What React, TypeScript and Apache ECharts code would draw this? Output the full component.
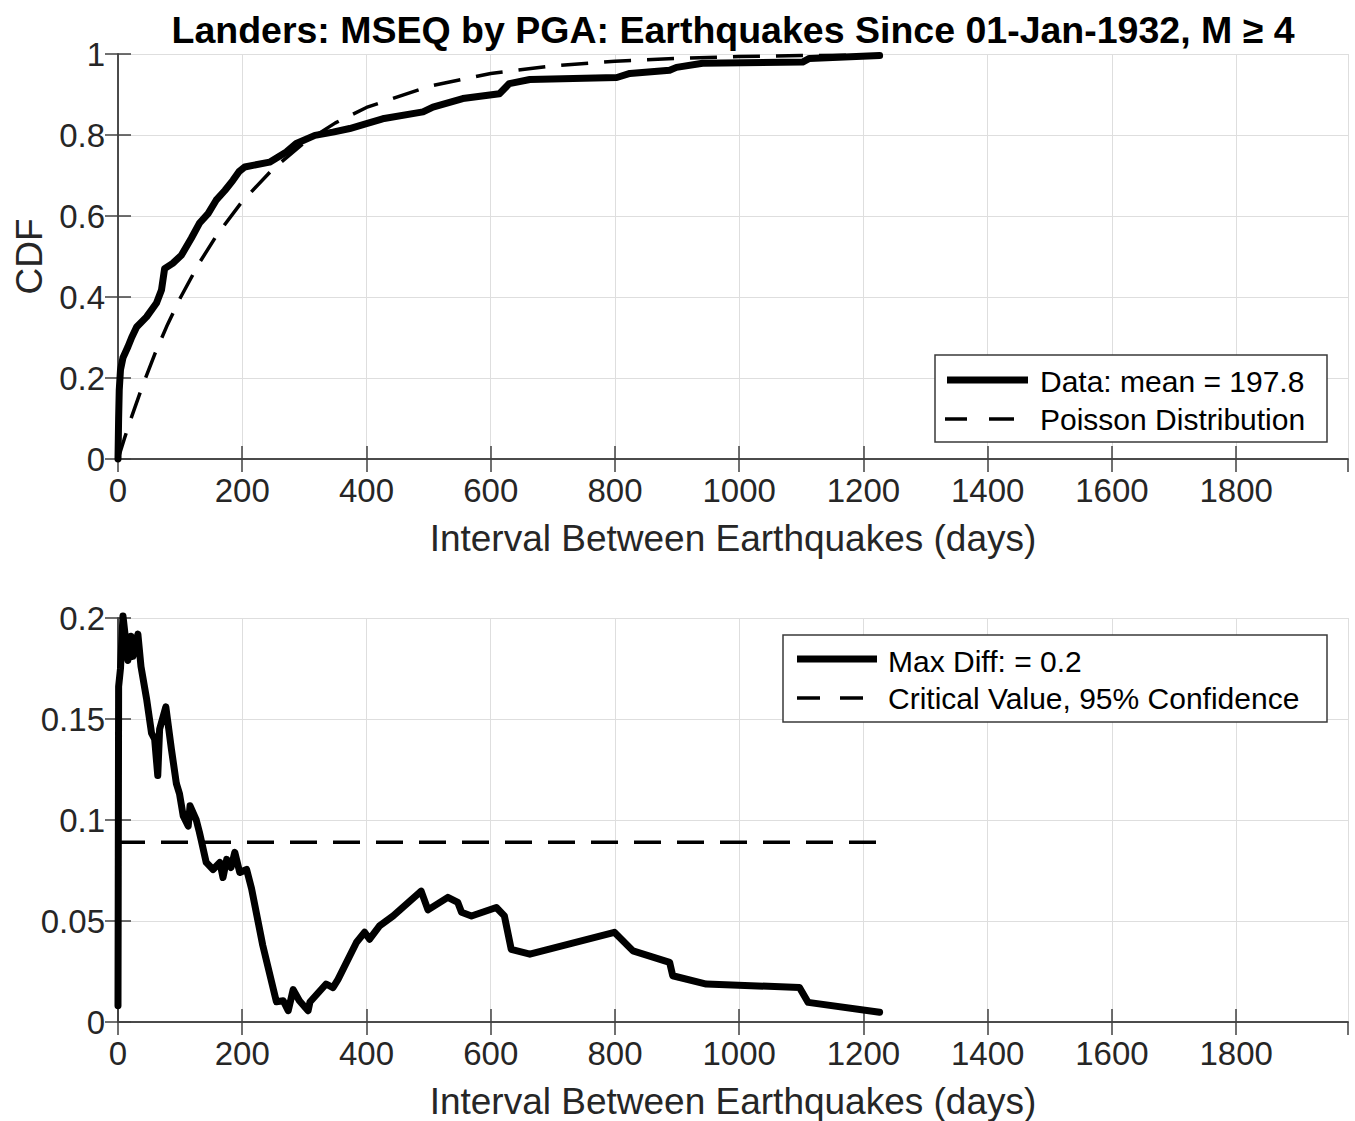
import React, { useEffect, useRef } from "react";
import * as echarts from "echarts";

// Empirical CDF of inter-event intervals (days)
const cdfDays = [0, 1, 2, 4, 8, 16, 22, 30, 46, 62, 70, 75, 88, 102, 118, 131, 145, 158, 172, 185, 195, 204, 244, 271, 287, 317, 346, 373, 400, 426, 491, 507, 555, 614, 630, 663, 803, 824, 888, 899, 941, 1102, 1113, 1226];
const cdfValues = [0, 0.1, 0.17, 0.22, 0.25, 0.277, 0.3, 0.326, 0.351, 0.385, 0.417, 0.47, 0.483, 0.503, 0.545, 0.582, 0.606, 0.639, 0.663, 0.688, 0.71, 0.721, 0.733, 0.758, 0.779, 0.799, 0.807, 0.816, 0.828, 0.84, 0.857, 0.869, 0.89, 0.902, 0.927, 0.937, 0.942, 0.952, 0.96, 0.967, 0.977, 0.98, 0.989, 0.996];

// Exponential (Poisson process) CDF with the same mean
const poissonDays = [0, 10, 20, 40, 60, 80, 100, 130, 160, 200, 250, 300, 350, 400, 500, 600, 700, 800, 900, 1000, 1100, 1230];
const poissonValues = [0, 0.049, 0.096, 0.183, 0.262, 0.333, 0.397, 0.482, 0.555, 0.636, 0.717, 0.781, 0.83, 0.868, 0.92, 0.952, 0.971, 0.982, 0.989, 0.994, 0.996, 0.998];

// Absolute difference between the two CDFs
const diffDays = [0, 1, 4, 8, 16, 21, 24, 32, 37, 46, 54, 59, 64, 67, 77, 86, 94, 99, 105, 113, 116, 126, 131, 134, 142, 153, 164, 169, 175, 182, 188, 196, 207, 215, 233, 255, 266, 274, 282, 292, 306, 309, 335, 346, 354, 384, 397, 405, 421, 443, 488, 499, 531, 547, 553, 569, 609, 622, 633, 663, 799, 829, 888, 893, 947, 1097, 1111, 1226];
const diffValues = [0.008, 0.166, 0.175, 0.201, 0.179, 0.191, 0.181, 0.192, 0.176, 0.16, 0.143, 0.14, 0.122, 0.145, 0.156, 0.135, 0.118, 0.113, 0.102, 0.097, 0.107, 0.1, 0.094, 0.09, 0.079, 0.0755, 0.079, 0.0715, 0.0805, 0.0765, 0.084, 0.074, 0.0755, 0.066, 0.038, 0.01, 0.0105, 0.0056, 0.016, 0.0105, 0.0056, 0.0099, 0.0188, 0.017, 0.021, 0.0395, 0.0444, 0.041, 0.0476, 0.0525, 0.0648, 0.0555, 0.0617, 0.0592, 0.0543, 0.0525, 0.0567, 0.0525, 0.036, 0.0336, 0.0444, 0.0352, 0.0295, 0.0229, 0.0188, 0.0171, 0.0097, 0.0048];

const criticalDays = [0, 1230];
const criticalValue = 0.089;

const titleText = "Landers: MSEQ by PGA: Earthquakes Since 01-Jan-1932, M \u2265 4";
const xName = "Interval Between Earthquakes (days)";
const legendTop = ["Data: mean = 197.8", "Poisson Distribution"];
const legendBottom = ["Max Diff: = 0.2", "Critical Value, 95% Confidence"];

const FONT = '"Liberation Sans", Arial, Helvetica, sans-serif';
const AXIS_COLOR = "#404040";
const TEXT_COLOR = "#262626";
const GRID_COLOR = "#dedede";
const TICK_FONT = 33;
const NAME_FONT = 37;
const LEGEND_FONT = 30;

const zip = (xs: number[], ys: number[]) => xs.map((x, i) => [x, ys[i]]);
const plain = (v: number) => String(parseFloat(Number(v).toFixed(4)));

function xAxisPair(gridIndex: number) {
  const base = {
    type: "value" as const,
    gridIndex,
    min: 0,
    max: 1980,
    interval: 200,
    axisLine: { show: true, lineStyle: { color: AXIS_COLOR, width: 1.5 } },
    axisTick: { show: true, inside: true, length: 13, lineStyle: { color: AXIS_COLOR, width: 1.5 } },
  };
  return [
    {
      ...base,
      position: "bottom",
      name: xName,
      nameLocation: "middle",
      nameGap: 61,
      nameTextStyle: { fontFamily: FONT, fontSize: NAME_FONT, color: TEXT_COLOR },
      axisLabel: {
        show: true,
        showMaxLabel: false,
        margin: 15,
        fontFamily: FONT,
        fontSize: TICK_FONT,
        color: TEXT_COLOR,
        formatter: plain,
      },
      splitLine: { show: true, lineStyle: { color: GRID_COLOR, width: 1 } },
    },
    {
      ...base,
      position: "top",
      axisLabel: { show: false },
      splitLine: { show: false },
    },
  ];
}

function yAxisPair(gridIndex: number, max: number, interval: number, name: string) {
  const base = {
    type: "value" as const,
    gridIndex,
    min: 0,
    max,
    interval,
    axisLine: { show: true, lineStyle: { color: AXIS_COLOR, width: 1.5 } },
    axisTick: { show: true, inside: true, length: 13, lineStyle: { color: AXIS_COLOR, width: 1.5 } },
  };
  return [
    {
      ...base,
      position: "left",
      name,
      nameLocation: "middle",
      nameGap: 70,
      nameTextStyle: { fontFamily: FONT, fontSize: NAME_FONT, color: TEXT_COLOR },
      axisLabel: { show: true, margin: 13, fontFamily: FONT, fontSize: TICK_FONT, color: TEXT_COLOR, formatter: plain },
      splitLine: { show: true, lineStyle: { color: GRID_COLOR, width: 1 } },
    },
    {
      ...base,
      position: "right",
      axisLabel: { show: false },
      splitLine: { show: false },
    },
  ];
}

function legendBox(
  box: { x: number; y: number; w: number; h: number },
  solid: [number, number, number],
  dashes: [number, number][],
  dashY: number,
  textX: number,
  rows: [number, number],
  labels: string[]
) {
  const txt = (s: string, y: number) => ({
    type: "text",
    z: 110,
    style: {
      text: s,
      x: textX,
      y,
      font: `${LEGEND_FONT}px ${FONT}`,
      fill: "#000",
      textAlign: "left",
      textVerticalAlign: "middle",
      align: "left",
      verticalAlign: "middle",
    },
  });
  return [
    {
      type: "rect",
      z: 100,
      shape: { x: box.x, y: box.y, width: box.w, height: box.h },
      style: { fill: "#fff", stroke: "#3a3a3a", lineWidth: 1.5 },
    },
    {
      type: "line",
      z: 110,
      shape: { x1: solid[0], y1: solid[2], x2: solid[1], y2: solid[2] },
      style: { stroke: "#000", lineWidth: 7 },
    },
    ...dashes.map(([a, b]) => ({
      type: "line",
      z: 110,
      shape: { x1: a, y1: dashY, x2: b, y2: dashY },
      style: { stroke: "#000", lineWidth: 3.5 },
    })),
    txt(labels[0], rows[0]),
    txt(labels[1], rows[1]),
  ];
}

export default function App() {
  const ref = useRef<HTMLDivElement>(null);

  useEffect(() => {
    if (!ref.current) return;
    const chart = echarts.init(ref.current, undefined, { renderer: "svg" });

    const thick = { color: "#000", width: 7, cap: "round", join: "round" };
    const dashed = { color: "#000", width: 3.5, type: [27, 16], cap: "butt" };

    chart.setOption({
      animation: false,
      backgroundColor: "#ffffff",
      grid: [
        { left: 118, top: 54, width: 1230, height: 405 },
        { left: 118, top: 618, width: 1230, height: 405 },
      ],
      xAxis: [...xAxisPair(0), ...xAxisPair(1)],
      yAxis: [...yAxisPair(0, 1, 0.2, "CDF"), ...yAxisPair(1, 0.2, 0.05, "")],
      series: [
        {
          name: legendTop[0],
          type: "line",
          xAxisIndex: 0,
          yAxisIndex: 0,
          data: zip(cdfDays, cdfValues),
          symbol: "none",
          clip: false,
          lineStyle: thick,
          z: 5,
        },
        {
          name: legendTop[1],
          type: "line",
          xAxisIndex: 0,
          yAxisIndex: 0,
          data: zip(poissonDays, poissonValues),
          symbol: "none",
          smooth: false,
          clip: false,
          lineStyle: dashed,
          z: 4,
        },
        {
          name: legendBottom[0],
          type: "line",
          xAxisIndex: 2,
          yAxisIndex: 2,
          data: zip(diffDays, diffValues),
          symbol: "none",
          clip: false,
          lineStyle: thick,
          z: 5,
        },
        {
          name: legendBottom[1],
          type: "line",
          xAxisIndex: 2,
          yAxisIndex: 2,
          data: criticalDays.map((d) => [d, criticalValue]),
          symbol: "none",
          clip: false,
          lineStyle: dashed,
          z: 4,
        },
      ],
      graphic: [
        {
          type: "text",
          z: 120,
          style: {
            text: titleText,
            x: 733,
            y: 30,
            font: `bold 37.5px ${FONT}`,
            fill: "#000",
            textAlign: "center",
            textVerticalAlign: "middle",
            align: "center",
            verticalAlign: "middle",
          },
        },
        ...legendBox(
          { x: 935, y: 355, w: 392, h: 87 },
          [947, 1028, 380],
          [
            [945, 967],
            [989, 1014],
          ],
          419,
          1040,
          [381, 419],
          legendTop
        ),
        ...legendBox(
          { x: 783, y: 635, w: 544, h: 87 },
          [797, 877, 659],
          [
            [797, 820],
            [840, 863],
          ],
          698,
          888,
          [661, 698],
          legendBottom
        ),
      ],
    });

    return () => chart.dispose();
  }, []);

  return (
    <div
      ref={ref}
      style={{ position: "absolute", left: 0, top: 0, width: 1355, height: 1121, background: "#fff" }}
    />
  );
}
